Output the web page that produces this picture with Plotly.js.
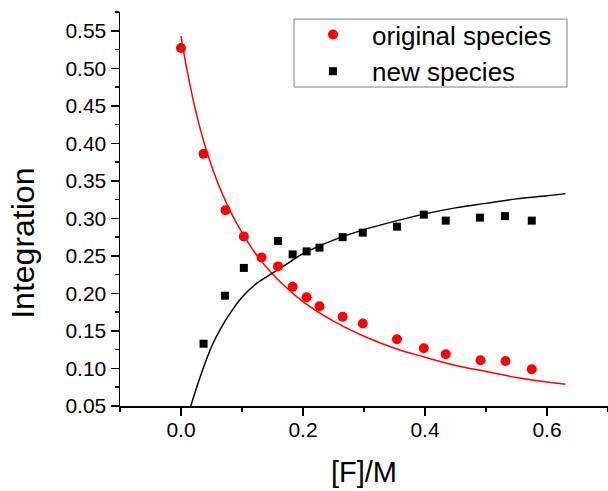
<!DOCTYPE html>
<html>
<head>
<meta charset="utf-8">
<script src="https://cdn.plot.ly/plotly-3.0.1.min.js"></script>
<style>html,body{margin:0;padding:0;background:#fff;}#chart{width:608px;height:491px;}</style>
</head>
<body>
<div id="chart"></div>
<script>
// measured data points
var origX = [0.000, 0.037, 0.073, 0.103, 0.132, 0.159, 0.183, 0.206, 0.227, 0.265, 0.298, 0.354, 0.398, 0.434, 0.491, 0.532, 0.575];
var origY = [0.527, 0.386, 0.311, 0.276, 0.248, 0.236, 0.209, 0.195, 0.183, 0.169, 0.160, 0.139, 0.127, 0.119, 0.111, 0.110, 0.099];
var newX = [0.037, 0.072, 0.103, 0.159, 0.183, 0.206, 0.227, 0.265, 0.298, 0.354, 0.398, 0.434, 0.490, 0.531, 0.575];
var newY = [0.133, 0.197, 0.234, 0.270, 0.252, 0.256, 0.261, 0.275, 0.281, 0.289, 0.305, 0.297, 0.301, 0.303, 0.297];
// fitted curves
var fitOrigX = [0.000, 0.010, 0.020, 0.030, 0.045, 0.060, 0.080, 0.100, 0.125, 0.150, 0.200, 0.250, 0.300, 0.350, 0.400, 0.450, 0.500, 0.550, 0.600, 0.630];
var fitOrigY = [0.543, 0.497, 0.458, 0.424, 0.382, 0.348, 0.311, 0.281, 0.250, 0.226, 0.189, 0.163, 0.143, 0.127, 0.115, 0.104, 0.096, 0.088, 0.082, 0.079];
var fitNewX = [0.016, 0.025, 0.035, 0.050, 0.065, 0.080, 0.100, 0.125, 0.150, 0.175, 0.200, 0.250, 0.300, 0.350, 0.400, 0.450, 0.500, 0.550, 0.600, 0.630];
var fitNewY = [0.050, 0.073, 0.097, 0.129, 0.153, 0.173, 0.195, 0.214, 0.227, 0.240, 0.253, 0.271, 0.285, 0.296, 0.306, 0.314, 0.320, 0.326, 0.330, 0.333];
var xTickVals = [0.0, 0.2, 0.4, 0.6];
var yTickVals = [0.05, 0.10, 0.15, 0.20, 0.25, 0.30, 0.35, 0.40, 0.45, 0.50, 0.55];

var FONT = 'Arial, "Liberation Sans", sans-serif';

var traces = [
  {x: fitOrigX, y: fitOrigY, mode: 'lines', line: {color: '#ff0000', width: 1.5, shape: 'spline'}, showlegend: false, hoverinfo: 'skip'},
  {x: fitNewX, y: fitNewY, mode: 'lines', line: {color: '#000000', width: 1.5, shape: 'spline'}, showlegend: false, hoverinfo: 'skip'},
  {x: origX, y: origY, mode: 'markers', name: 'original species', marker: {symbol: 'circle', size: 10, color: '#ff0000'}},
  {x: newX, y: newY, mode: 'markers', name: 'new species', marker: {symbol: 'square', size: 8, color: '#000000'}}
];

var layout = {
  width: 608, height: 491,
  margin: {l: 120, r: 0, t: 12, b: 85},
  paper_bgcolor: '#ffffff', plot_bgcolor: '#ffffff',
  font: {family: FONT, color: '#000000'},
  showlegend: true,
  xaxis: {
    range: [-0.1, 0.7], tickvals: xTickVals, tickformat: '.1f',
    showgrid: false, zeroline: false, showline: true, linecolor: '#000', linewidth: 1.5,
    ticks: 'outside', ticklen: 8, tickwidth: 1.5, tickcolor: '#000',
    tickfont: {family: FONT, size: 21, color: '#000'}, ticklabelstandoff: -4,
    minor: {dtick: 0.1, tick0: 0.1, ticks: 'outside', ticklen: 4, tickwidth: 1.5, tickcolor: '#000', showgrid: false},
    title: {text: '[F]/M', font: {family: FONT, size: 29, color: '#000'}, standoff: 22},
    automargin: false
  },
  yaxis: {
    range: [0.05, 0.575], tickvals: yTickVals, tickformat: '.2f',
    showgrid: false, zeroline: false, showline: true, linecolor: '#000', linewidth: 1.5,
    ticks: 'outside', ticklen: 8, tickwidth: 1.5, tickcolor: '#000',
    tickfont: {family: FONT, size: 21, color: '#000'},
    minor: {dtick: 0.025, tick0: 0.025, ticks: 'outside', ticklen: 4, tickwidth: 1.5, tickcolor: '#000', showgrid: false},
    automargin: false
  },
  legend: {
    x: 0.3566, y: 1.0025, xanchor: 'left', yanchor: 'top',
    bgcolor: 'rgba(0,0,0,0)', borderwidth: 0,
    font: {family: FONT, size: 26, color: '#000'},
    itemwidth: 68, tracegroupgap: 0
  },
  shapes: [{
    type: 'rect', xref: 'paper', yref: 'paper', x0: 0.3566, x1: 0.916, y0: 0.8096, y1: 0.982,
    line: {color: '#808080', width: 1}, fillcolor: 'rgba(0,0,0,0)', layer: 'below'
  }],
  annotations: [{
    text: 'Integration', xref: 'paper', yref: 'paper', x: -0.199, y: 0.414,
    xanchor: 'center', yanchor: 'middle', textangle: -90, showarrow: false,
    font: {family: FONT, size: 32, color: '#000'}
  }]
};

Plotly.newPlot('chart', traces, layout, {displayModeBar: false, staticPlot: true});
</script>
</body>
</html>
